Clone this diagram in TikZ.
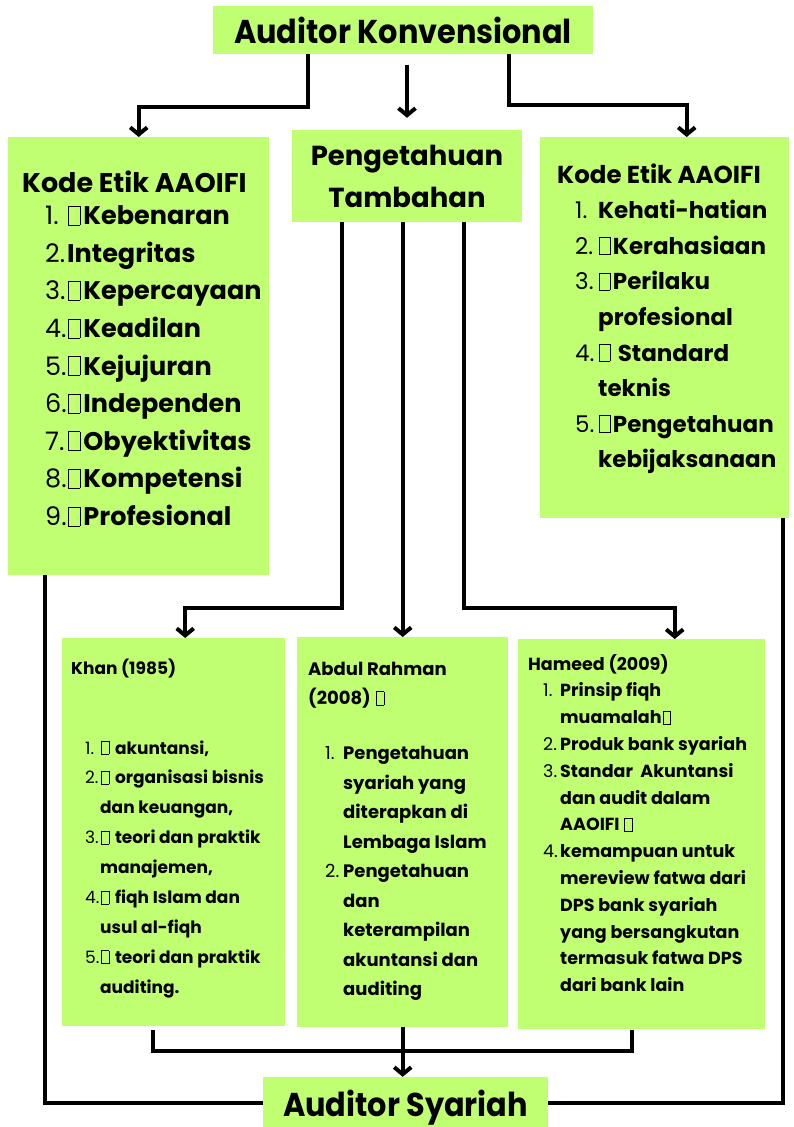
\documentclass[tikz,border=0pt]{standalone}
\usepackage{fontspec}
\setmainfont{Poppins}
\newfontfamily\titlefont[FakeStretch=0.92]{Poppins}
\usetikzlibrary{arrows.meta}
\definecolor{boxgreen}{RGB}{193,255,114}
\newcommand{\tofu}{\kern0.05em{\fboxsep=0pt\fboxrule=0.6pt\fbox{\rule{0pt}{0.72em}\hspace{0.42em}}}\kern0.12em}
\newcommand{\itemno}[2]{\makebox[#1][l]{\mdseries#2.}}

\begin{document}
\begin{tikzpicture}[x=1pt,y=-1pt,
    box/.style={fill=boxgreen,inner sep=0pt,anchor=north west},
    title/.style={box,anchor=center,font={\titlefont\bfseries\fontsize{33}{34}\selectfont}},
    link/.style={line width=4pt},
    arr/.style={link,-{Straight Barb[length=7pt,width=17pt]}}]

    \fill[white] (0,0) rectangle (793,1127);
    \useasboundingbox (0,0) rectangle (793,1127);

    % Titles
    \node[title,minimum width=380pt,minimum height=48pt] (konv) at (403,30) {Auditor Konvensional};
    \node[title,minimum width=285pt,minimum height=52pt,text depth=0pt] (syariah) at (405.5,1103) {Auditor Syariah};

    % Pengetahuan Tambahan
    \node[box,anchor=center,minimum width=230pt,minimum height=92pt,text depth=0pt,align=center,
          font={\bfseries\fontsize{27.5}{42}\selectfont}] (tamb) at (407,176) {Pengetahuan\\Tambahan};

    % Kode Etik, left
    \node[box] (kodeL) at (8,137) {\parbox[c][438pt][t]{261pt}{\fontsize{25.5}{37.6}\selectfont\bfseries
        \vspace*{29.2pt}\hspace*{14pt}\begin{tabular}{@{}l@{}}
        {\fontsize{27}{37.6}\selectfont Kode Etik AAOIFI}\\[-5.6pt]
        \hspace*{23pt}\itemno{22pt}{1}\tofu Kebenaran\\
        \hspace*{23pt}\itemno{22pt}{2}Integritas\\
        \hspace*{23pt}\itemno{22pt}{3}\tofu Kepercayaan\\
        \hspace*{23pt}\itemno{22pt}{4}\tofu Keadilan\\
        \hspace*{23pt}\itemno{22pt}{5}\tofu Kejujuran\\
        \hspace*{23pt}\itemno{22pt}{6}\tofu Independen\\
        \hspace*{23pt}\itemno{22pt}{7}\tofu Obyektivitas\\
        \hspace*{23pt}\itemno{22pt}{8}\tofu Kompetensi\\
        \hspace*{23pt}\itemno{22pt}{9}\tofu Profesional
        \end{tabular}}};

    % Kode Etik, right
    \node[box] (kodeR) at (540,137) {\parbox[c][381pt][t]{249pt}{\fontsize{23}{35.6}\selectfont\bfseries
        \vspace*{21pt}\hspace*{17pt}\begin{tabular}{@{}l@{}}
        {\fontsize{24.5}{35.6}\selectfont Kode Etik AAOIFI}\\
        \hspace*{18pt}\itemno{23pt}{1}Kehati-hatian\\
        \hspace*{18pt}\itemno{23pt}{2}\tofu Kerahasiaan\\
        \hspace*{18pt}\itemno{23pt}{3}\tofu Perilaku\\
        \hspace*{41pt}profesional\\
        \hspace*{18pt}\itemno{23pt}{4}\tofu\ Standard\\
        \hspace*{41pt}teknis\\
        \hspace*{18pt}\itemno{23pt}{5}\tofu Pengetahuan\\
        \hspace*{41pt}kebijaksanaan
        \end{tabular}}};

    % Khan
    \node[box] (khan) at (62,638) {\parbox[c][388pt][t]{223pt}{\fontsize{17}{29.9}\selectfont\bfseries
        \vspace*{15pt}\hspace*{9pt}\begin{tabular}{@{}l@{}}
        Khan (1985)\\[50pt]
        \hspace*{14pt}\itemno{15pt}{1}\tofu\ akuntansi,\\
        \hspace*{14pt}\itemno{15pt}{2}\tofu\ organisasi bisnis\\
        \hspace*{29pt}dan keuangan,\\
        \hspace*{14pt}\itemno{15pt}{3}\tofu\ teori dan praktik\\
        \hspace*{29pt}manajemen,\\
        \hspace*{14pt}\itemno{15pt}{4}\tofu\ fiqh Islam dan\\
        \hspace*{29pt}usul al-fiqh\\
        \hspace*{14pt}\itemno{15pt}{5}\tofu\ teori dan praktik\\
        \hspace*{29pt}auditing.
        \end{tabular}}};

    % Abdul Rahman
    \node[box] (abdul) at (297,637) {\parbox[c][390pt][t]{211pt}{\fontsize{18}{29.5}\selectfont\bfseries
        \vspace*{17.4pt}\hspace*{11pt}\begin{tabular}{@{}l@{}}
        Abdul Rahman\\
        (2008) \tofu\\[25.5pt]
        \hspace*{17pt}\itemno{18pt}{1}Pengetahuan\\
        \hspace*{35pt}syariah yang\\
        \hspace*{35pt}diterapkan di\\
        \hspace*{35pt}Lembaga Islam\\
        \hspace*{17pt}\itemno{18pt}{2}Pengetahuan\\
        \hspace*{35pt}dan\\
        \hspace*{35pt}keterampilan\\
        \hspace*{35pt}akuntansi dan\\
        \hspace*{35pt}auditing
        \end{tabular}}};

    % Hameed
    \node[box] (hameed) at (518,639) {\parbox[c][390pt][t]{247pt}{\fontsize{17.5}{26.8}\selectfont\bfseries
        \vspace*{12.2pt}\hspace*{10pt}\begin{tabular}{@{}l@{}}
        Hameed (2009)\\
        \hspace*{15pt}\itemno{17pt}{1}Prinsip fiqh\\
        \hspace*{32pt}muamalah\tofu\\
        \hspace*{15pt}\itemno{17pt}{2}Produk bank syariah\\
        \hspace*{15pt}\itemno{17pt}{3}Standar~ Akuntansi\\
        \hspace*{32pt}dan audit dalam\\
        \hspace*{32pt}AAOIFI \tofu\\
        \hspace*{15pt}\itemno{17pt}{4}kemampuan untuk\\
        \hspace*{32pt}mereview fatwa dari\\
        \hspace*{32pt}DPS bank syariah\\
        \hspace*{32pt}yang bersangkutan\\
        \hspace*{32pt}termasuk fatwa DPS\\
        \hspace*{32pt}dari bank lain
        \end{tabular}}};

    % Arrows from Auditor Konvensional
    \draw[arr] ([xshift=-95pt]konv.south) -- ++(0,53) -| (kodeL.north);
    \draw[arr] ([yshift=65pt]tamb.north) -- ([yshift=12pt]tamb.north);
    \draw[arr] ([xshift=106pt]konv.south) -- ++(0,51) -| ([xshift=22pt]kodeR.north);

    % Arrows from Pengetahuan Tambahan
    \draw[arr] ([xshift=-65pt]tamb.south) -- ++(0,386) -| ([xshift=11.5pt]khan.north);
    \draw[arr] (tamb.south -| abdul.north) -- (abdul.north);
    \draw[arr] ([xshift=57pt]tamb.south) -- ++(0,386) -| ([xshift=33pt]hameed.north);

    % Into Auditor Syariah
    \draw[link] ([xshift=-93.5pt]kodeL.south) |- (syariah.west);
    \draw[link] ([xshift=118.5pt]kodeR.south) |- (syariah.east);
    \draw[link] ([xshift=-20.5pt,yshift=-4pt]khan.south) -- ++(0,21) -| ([xshift=-9.5pt,yshift=-1pt]hameed.south);
    \draw[arr] (abdul.south) -- (abdul.south |- syariah.north);
\end{tikzpicture}
\end{document}
